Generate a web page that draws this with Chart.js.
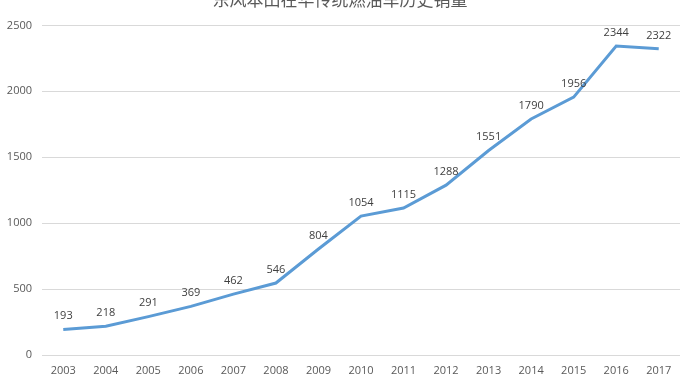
<!DOCTYPE html>
<html>
<head>
<meta charset="utf-8">
<script src="https://cdn.jsdelivr.net/npm/chart.js@4"></script>
<style>
  html, body { margin: 0; padding: 0; background: #fff; overflow: hidden; }
  #wrap { position: absolute; left: 0; top: -15px; width: 693px; height: 407px; }
</style>
</head>
<body>
<div id="wrap"><canvas id="chart"></canvas></div>
<script>
const TITLE = '东风本田在华传统燃油车历史销量';
const years = ['2003', '2004', '2005', '2006', '2007', '2008', '2009', '2010',
  '2011', '2012', '2013', '2014', '2015', '2016', '2017'];
const sales = [193, 218, 291, 369, 462, 546, 804, 1054, 1115, 1288, 1551, 1790, 1956, 2344, 2322];

const TEXT = '#595959';
const FONT = '"Open Sans", "Liberation Sans", sans-serif';

// draw the value above each point
const pointLabels = {
  id: 'pointLabels',
  afterDatasetsDraw(chart) {
    const { ctx } = chart;
    const meta = chart.getDatasetMeta(0);
    ctx.save();
    ctx.font = `11px ${FONT}`;
    ctx.fillStyle = '#404040';
    ctx.textAlign = 'center';
    ctx.textBaseline = 'bottom';
    meta.data.forEach((pt, i) => {
      ctx.fillText(String(sales[i]), pt.x, pt.y - 8);
    });
    ctx.restore();
  },
};

new Chart(document.getElementById('chart'), {
  type: 'line',
  data: {
    labels: years,
    datasets: [{
      data: sales,
      borderColor: '#5B9BD5',
      borderWidth: 3,
      pointRadius: 0,
      tension: 0,
      fill: false,
    }],
  },
  options: {
    responsive: true,
    maintainAspectRatio: false,
    animation: false,
    layout: { padding: { left: 0, right: 13, top: 0, bottom: 0 } },
    plugins: {
      legend: { display: false },
      tooltip: { enabled: false },
      title: {
        display: true,
        text: TITLE,
        color: TEXT,
        font: { family: '"Noto Sans CJK SC", sans-serif', size: 17, weight: 'normal' },
        padding: { top: 4, bottom: 16 },
      },
    },
    scales: {
      x: {
        offset: true,
        grid: { display: false },
        border: { display: false },
        ticks: { color: TEXT, font: { family: FONT, size: 11 }, padding: 1, maxRotation: 0, autoSkip: false },
        afterFit(scale) { scale.height = 37; },
      },
      y: {
        min: 0,
        max: 2500,
        grid: { color: '#d9d9d9', drawTicks: false },
        border: { display: false },
        ticks: {
          stepSize: 500,
          color: TEXT,
          font: { family: FONT, size: 11 },
          padding: 10,
          callback: (v) => String(v),
        },
        afterFit(scale) { scale.width = 42; },
      },
    },
  },
  plugins: [pointLabels],
});
</script>
</body>
</html>
